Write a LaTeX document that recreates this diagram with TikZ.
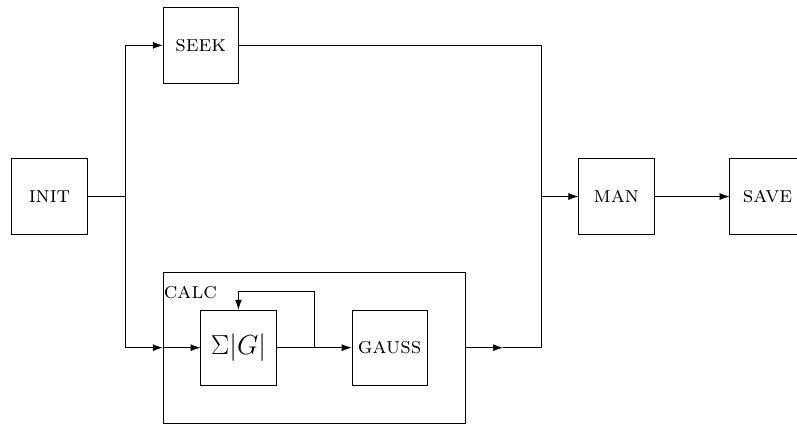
\documentclass[tikz,border=0pt]{standalone}
\usepackage{amsmath}
\usepackage{tikz}
\usetikzlibrary{arrows.meta,positioning,calc}
\tikzset{block/.style={draw,minimum size=2cm,inner sep=1pt,font=\LARGE},
  flow/.style={-{Latex[length=2.6mm,width=1.8mm]}},
  plain/.style={draw}}

\begin{document}
\begin{tikzpicture}
 \useasboundingbox (-1.31,-6.045) rectangle (19.78,5.2);
 \node[block] (init) at (0,0) {\textsc{init}};
 \node[block] (seek) at (4,4) {\textsc{seek}};
 \node[draw,minimum width=8cm,minimum height=4cm] (calc) at (7,-4) {};
 \node[anchor=west,inner sep=0,font=\LARGE] (calctxt) at (3.02,-2.53) {\textsc{calc}};
 \node[block,font=\fontsize{22.4}{27}\selectfont] (sum) at (5,-4) {$\Sigma|G|$};
 \node[block] (gauss) at (9,-4) {\textsc{gauss}};
 \node[block] (man) at (15,0) {\textsc{man}};
 \node[block] (save) at (19,0) {\textsc{save}};
 \coordinate (split) at (2,0);
 \coordinate (fb) at (7,-4);
 \coordinate (mid) at (12,-4);
 \coordinate (merge) at (13,0);
 % left part
 \draw (init.east) -- (split);
 \draw[flow] (split) |- (seek.west);
 \draw[flow] (split) |- (calc.west);
 \draw[flow] (calc.west) -- (sum.west);
 % inside calc
 \draw[flow] (sum.east) -- (gauss.west);
 \draw[flow] (fb) -- ++(0,1.5) -| (sum.north);
 % right part
 \draw[flow] (calc.east) -- (mid);
 \draw (mid) -| (merge);
 \draw (seek.east) -| (merge);
 \draw[flow] (merge) -- (man.west);
 \draw[flow] (man.east) -- (save.west);
\end{tikzpicture}
\end{document}
